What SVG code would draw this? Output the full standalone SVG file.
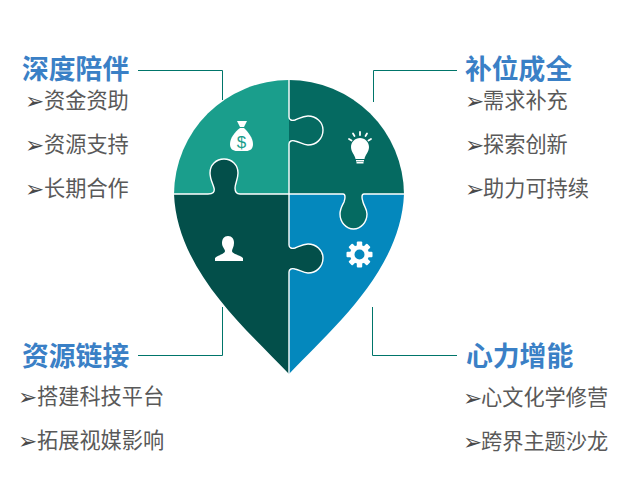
<svg xmlns="http://www.w3.org/2000/svg" width="640" height="494" viewBox="0 0 640 494">
<style>
text{font-family:"Noto Sans CJK SC","Noto Sans",sans-serif}
.t{font-size:26.8px;font-weight:700;fill:#3A80C6}
.i{font-size:21.200px;fill:#595959}
.b{font-size:23px;fill:#4a4a4a;font-family:"DejaVu Sans",sans-serif}
.s{fill:none;stroke:#fff;stroke-width:1.4}
.c{fill:none;stroke:#00756A;stroke-width:1}
.w{fill:#fff}
</style>
<rect width="640" height="494" fill="#fff"/>
<g id="connectors">
<path class="c" d="M138,70.500H222.500V100"/>
<path class="c" d="M373.500,102V70.500H457"/>
<path class="c" d="M222.500,307V355.500H138"/>
<path class="c" d="M372.500,307V355.500H457"/>
</g>
<g id="piece-teal">
<path fill="#1A9E8C" d="M289,80A115,115 0 0 0 174,194H289Z"/>
<g class="w"><path d="M237,121L247,121L244,127H240Z"/><path d="M240,128H244C248,132 253,138 253,144C253,149 250,151 246,151H237C233,151 230,149 230,144C230,138 235,132 240,128Z"/></g>
<text x="241.500" y="148" text-anchor="middle" style="font-family:'Liberation Sans',sans-serif;font-size:17px;fill:#1A9E8C">$</text>
</g>
<g id="piece-dark-teal">
<path fill="#056A61" d="M289,80A115,115 0 0 1 404,194H289Z"/>
<path class="s" d="M289,80V117C289,120 292,121 295,120C300,118 303,116 308,116C316,116 323,122 323,130C323,139 316,145 308,145C303,145 300,142 295,141C292,140 289,141 289,144V194"/>
<g class="w"><path d="M360,138C365,138 369,142 369,147C369,152 365,155 364.500,159H355.500C355,155 351,152 351,147C351,142 355,138 360,138Z"/><rect x="356" y="160" width="8" height="1.500"/><rect x="356.500" y="162" width="7" height="1.500"/></g>
<g stroke="#fff" stroke-width="1.800" stroke-linecap="round"><path d="M360,132V135M353,133.500L354.500,136M367,133.500L365.500,136M349,139L351.500,140.500M371,139L368.500,140.500"/></g>
</g>
<g id="piece-darkest">
<path fill="#034F4A" d="M174,194H289V374C245,328 177,270 174,194Z"/>
<path fill="#034F4A" d="M210,194C213,194 215,192 214,188C213,184 210,179 210,173C210,165 216,159 224,159C232,159 238,165 238,173C238,179 235,184 235,188C235,192 236,194 240,194Z"/>
<path class="w" d="M228,236C232,236 234,239 234,243C234,247 232,249 232,251C232,254 240,255 243,258V261H215V258C218,255 225,254 225,251C225,249 222,247 222,243C222,239 224,236 228,236Z"/>
</g>
<g id="piece-blue">
<path fill="#0488BD" d="M289,194H404C401,270 333,328 289,374Z"/>
<path fill="#056A61" d="M343,194C346,194 345,199 344,202C342,206 340,209 340,214C340,222 346,229 353.500,229C361,229 367,222 367,214C367,209 364,206 363,202C362,199 361,194 364,194Z"/>
<path fill="#034F4A" d="M289,245C292,249 292,249 295,248C300,246 303,244 308,244C316,244 323,250 323,258C323,267 316,273 308,273C303,273 300,270 295,269C292,268 289,269 289,272Z"/>
<g transform="translate(359.500,254.500)"><circle r="9.500" class="w"/><g class="w"><rect x="-2.700" y="-13" width="5.400" height="26" rx="1"/><rect x="-2.700" y="-13" width="5.400" height="26" rx="1" transform="rotate(45)"/><rect x="-2.700" y="-13" width="5.400" height="26" rx="1" transform="rotate(90)"/><rect x="-2.700" y="-13" width="5.400" height="26" rx="1" transform="rotate(135)"/></g><circle r="5" fill="#0488BD"/></g>
</g>
<g id="seams">
<path class="s" d="M174,194H208C213,194 215,192 214,188C213,184 210,179 210,173C210,165 216,159 224,159C232,159 238,165 238,173C238,179 235,184 235,188C235,192 236,194 240,194H343C346,194 345,199 344,202C342,206 340,209 340,214C340,222 346,229 353.500,229C361,229 367,222 367,214C367,209 364,206 363,202C362,199 361,194 364,194H404"/>
<path class="s" d="M289,194V245C289,248 292,249 295,248C300,246 303,244 308,244C316,244 323,250 323,258C323,267 316,273 308,273C303,273 300,270 295,269C292,268 289,269 289,272V374"/>
</g>
<g id="label-tl">
<text class="t" x="22" y="79">深度陪伴</text>
<text class="b" x="25" y="109">➢</text><text class="i" x="44" y="108">资金资助</text>
<text class="b" x="25" y="153">➢</text><text class="i" x="44" y="152">资源支持</text>
<text class="b" x="25" y="197">➢</text><text class="i" x="44" y="196">长期合作</text>
</g>
<g id="label-tr">
<text class="t" x="465" y="79">补位成全</text>
<text class="b" x="465" y="109">➢</text><text class="i" x="483" y="108">需求补充</text>
<text class="b" x="465" y="153">➢</text><text class="i" x="483" y="152">探索创新</text>
<text class="b" x="465" y="197">➢</text><text class="i" x="483" y="196">助力可持续</text>
</g>
<g id="label-bl">
<text class="t" x="22" y="366">资源链接</text>
<text class="b" x="18" y="405">➢</text><text class="i" x="37" y="404">搭建科技平台</text>
<text class="b" x="18" y="449">➢</text><text class="i" x="37" y="448">拓展视媒影响</text>
</g>
<g id="label-br">
<text class="t" x="466" y="366">心力增能</text>
<text class="b" x="463" y="406">➢</text><text class="i" x="481" y="405">心文化学修营</text>
<text class="b" x="463" y="450">➢</text><text class="i" x="481" y="449">跨界主题沙龙</text>
</g>
</svg>
